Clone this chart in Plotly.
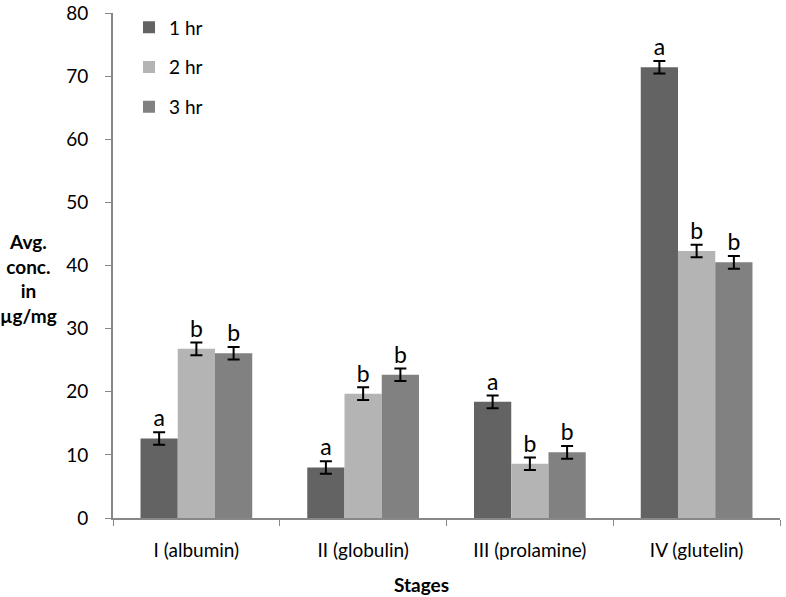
import plotly.graph_objects as go

categories = ["I (albumin)", "II (globulin)", "III (prolamine)", "IV (glutelin)"]
series_names = ["1 hr", "2 hr", "3 hr"]
values_1hr = [12.6, 8.0, 18.4, 71.4]
values_2hr = [26.8, 19.7, 8.6, 42.3]
values_3hr = [26.1, 22.7, 10.4, 40.5]
errors_1hr = [1.0, 1.0, 1.0, 1.0]
errors_2hr = [1.0, 1.0, 1.0, 1.0]
errors_3hr = [1.0, 1.0, 1.0, 1.0]
letters_1hr = ["a", "a", "a", "a"]
letters_2hr = ["b", "b", "b", "b"]
letters_3hr = ["b", "b", "b", "b"]
y_ticks = [0, 10, 20, 30, 40, 50, 60, 70, 80]

colors = ["#636363", "#b4b4b4", "#818181"]
FONT = "Lato"

fig = go.Figure()
all_vals = [values_1hr, values_2hr, values_3hr]
all_errs = [errors_1hr, errors_2hr, errors_3hr]
all_letters = [letters_1hr, letters_2hr, letters_3hr]

for i, name in enumerate(series_names):
    fig.add_trace(go.Bar(
        x=categories, y=all_vals[i], name=name,
        marker=dict(color=colors[i], line=dict(width=0)),
        error_y=dict(type="data", array=all_errs[i], color="black", thickness=2, width=6),
        offsetgroup=str(i), legendgroup=str(i),
    ))

for i, name in enumerate(series_names):
    fig.add_trace(go.Scatter(
        x=categories, y=[v + e for v, e in zip(all_vals[i], all_errs[i])],
        mode="text", text=all_letters[i], textposition="top center",
        textfont=dict(size=23, color="black", family=FONT),
        offsetgroup=str(i), showlegend=False, hoverinfo="skip",
    ))

fig.update_layout(
    width=786, height=597,
    margin=dict(l=113, r=6, t=13, b=79, autoexpand=False),
    barmode="group", bargap=0.33, bargroupgap=0,
    scattermode="group", scattergap=0.33,
    plot_bgcolor="white", paper_bgcolor="white",
    font=dict(family=FONT, size=19, color="black"),
    showlegend=True,
    legend=dict(x=0.024, y=1.009, xanchor="left", yanchor="top",
                font=dict(size=19, family=FONT), tracegroupgap=12,
                bgcolor="rgba(0,0,0,0)"),
    xaxis=dict(
        type="category", showline=True, linecolor="#888888", linewidth=2,
        ticks="outside", tickson="boundaries", ticklen=6, tickcolor="#888888", tickwidth=1,
        showgrid=False, ticklabelstandoff=14, automargin=False,
    ),
    yaxis=dict(
        range=[0, 80], tickvals=y_ticks, showline=True, linecolor="#888888", linewidth=2,
        ticks="outside", ticklen=6, tickcolor="#888888", tickwidth=1,
        showgrid=False, zeroline=False, ticklabelstandoff=13, automargin=False,
    ),
    annotations=[
        dict(text="<b>Avg.<br>conc.<br>in<br>µg/mg</b>", xref="paper", yref="paper",
             x=-0.127, y=0.475, xanchor="center", yanchor="middle", showarrow=False,
             font=dict(size=19, family=FONT), align="center"),
        dict(text="<b>Stages</b>", xref="paper", yref="paper",
             x=0.462, y=-0.131, xanchor="center", yanchor="middle", showarrow=False,
             font=dict(size=19, family=FONT)),
    ],
)

fig.write_html("out.html", config={"displayModeBar": False},
               post_script="document.body.style.margin='0';document.body.style.padding='0';")
